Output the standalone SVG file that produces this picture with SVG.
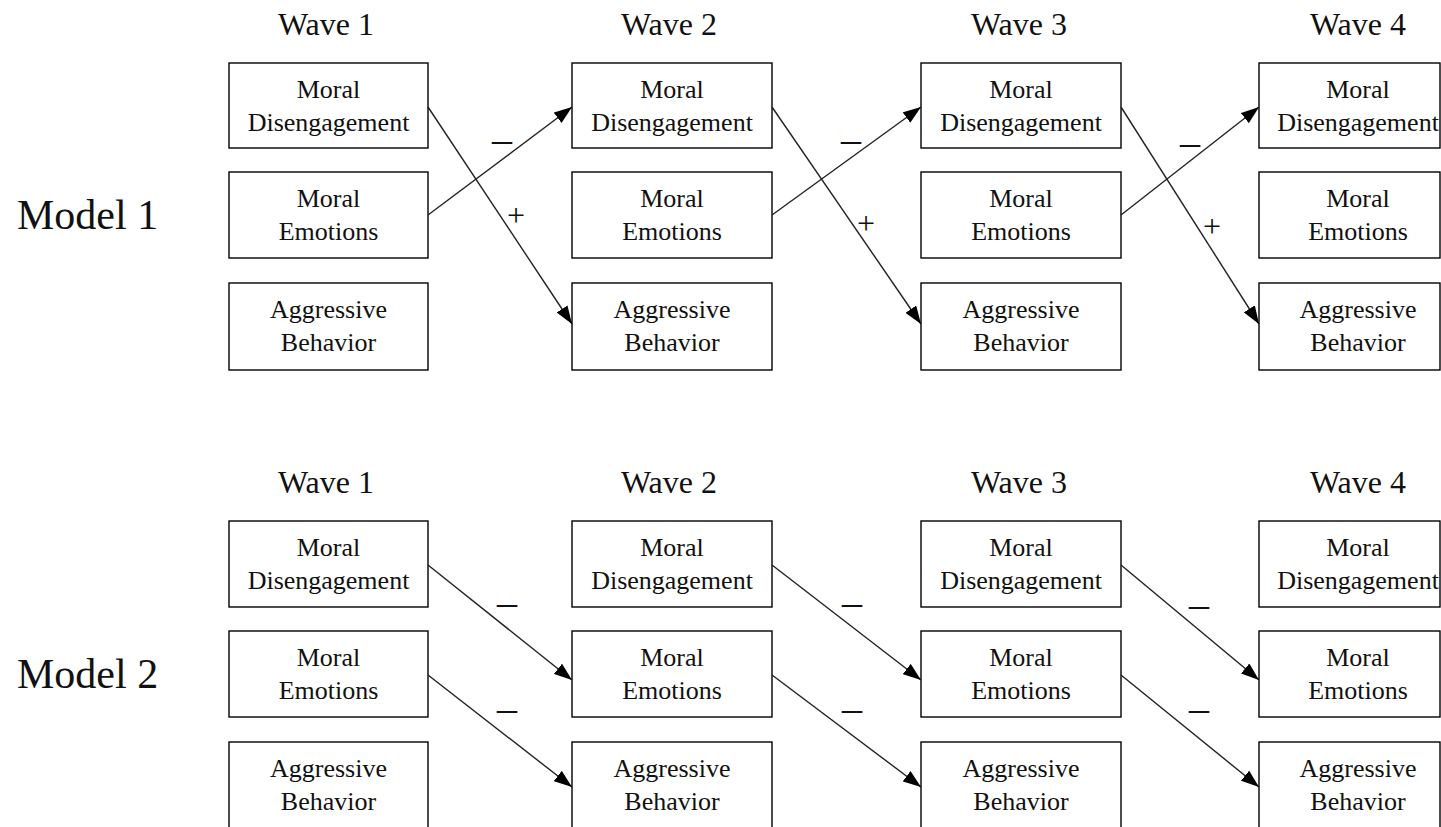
<svg xmlns="http://www.w3.org/2000/svg" width="1441" height="827" viewBox="0 0 1441 827">
<style>
.box{fill:#fff;stroke:#000;stroke-width:1.4}
.t{font-family:"Liberation Serif","Times New Roman",serif;font-size:26px;fill:#111;text-anchor:middle}
.w{font-family:"Liberation Serif","Times New Roman",serif;font-size:32px;fill:#111;text-anchor:middle}
.m{font-family:"Liberation Serif","Times New Roman",serif;font-size:42px;fill:#111}
.c{stroke:#222;stroke-width:1.4;fill:none;marker-end:url(#ah)}
.lab{font-family:"Liberation Serif","Times New Roman",serif;fill:#111;text-anchor:middle}
</style>
<defs>
<marker id="ah" viewBox="0 0 18 13" refX="18" refY="6.5" markerWidth="18" markerHeight="13" markerUnits="userSpaceOnUse" orient="auto">
<path d="M0,0 L18,6.5 L0,13 z" fill="#000"/>
</marker>
</defs>
<rect width="1441" height="827" fill="#fff"/>

<text class="m" x="17" y="229">Model 1</text>
<text class="m" x="17" y="688">Model 2</text>

<g id="titles1">
<text class="w" x="326" y="35">Wave 1</text>
<text class="w" x="669" y="35">Wave 2</text>
<text class="w" x="1019" y="35">Wave 3</text>
<text class="w" x="1358" y="35">Wave 4</text>
</g>
<g id="titles2">
<text class="w" x="326" y="493">Wave 1</text>
<text class="w" x="669" y="493">Wave 2</text>
<text class="w" x="1019" y="493">Wave 3</text>
<text class="w" x="1358" y="493">Wave 4</text>
</g>

<!-- Model 1 -->
<g id="m1w1md"><rect class="box" x="229" y="63" width="199" height="85"/><text class="t" x="328.5" y="98">Moral</text><text class="t" x="328.5" y="131">Disengagement</text></g>
<g id="m1w1me"><rect class="box" x="229" y="172" width="199" height="86"/><text class="t" x="328.5" y="207">Moral</text><text class="t" x="328.5" y="240">Emotions</text></g>
<g id="m1w1ab"><rect class="box" x="229" y="283" width="199" height="87"/><text class="t" x="328.5" y="318">Aggressive</text><text class="t" x="328.5" y="351">Behavior</text></g>

<g id="m1w2md"><rect class="box" x="572" y="63" width="200" height="85"/><text class="t" x="672" y="98">Moral</text><text class="t" x="672" y="131">Disengagement</text></g>
<g id="m1w2me"><rect class="box" x="572" y="172" width="200" height="86"/><text class="t" x="672" y="207">Moral</text><text class="t" x="672" y="240">Emotions</text></g>
<g id="m1w2ab"><rect class="box" x="572" y="283" width="200" height="87"/><text class="t" x="672" y="318">Aggressive</text><text class="t" x="672" y="351">Behavior</text></g>

<g id="m1w3md"><rect class="box" x="921" y="63" width="200" height="85"/><text class="t" x="1021" y="98">Moral</text><text class="t" x="1021" y="131">Disengagement</text></g>
<g id="m1w3me"><rect class="box" x="921" y="172" width="200" height="86"/><text class="t" x="1021" y="207">Moral</text><text class="t" x="1021" y="240">Emotions</text></g>
<g id="m1w3ab"><rect class="box" x="921" y="283" width="200" height="87"/><text class="t" x="1021" y="318">Aggressive</text><text class="t" x="1021" y="351">Behavior</text></g>

<g id="m1w4md"><rect class="box" x="1259" y="63" width="181" height="85"/><text class="t" x="1358" y="98">Moral</text><text class="t" x="1358" y="131">Disengagement</text></g>
<g id="m1w4me"><rect class="box" x="1259" y="172" width="181" height="86"/><text class="t" x="1358" y="207">Moral</text><text class="t" x="1358" y="240">Emotions</text></g>
<g id="m1w4ab"><rect class="box" x="1259" y="283" width="181" height="87"/><text class="t" x="1358" y="318">Aggressive</text><text class="t" x="1358" y="351">Behavior</text></g>

<!-- Model 2 -->
<g id="m2w1md"><rect class="box" x="229" y="521" width="199" height="86"/><text class="t" x="328.5" y="556">Moral</text><text class="t" x="328.5" y="589">Disengagement</text></g>
<g id="m2w1me"><rect class="box" x="229" y="631" width="199" height="86"/><text class="t" x="328.5" y="666">Moral</text><text class="t" x="328.5" y="699">Emotions</text></g>
<g id="m2w1ab"><rect class="box" x="229" y="742" width="199" height="90"/><text class="t" x="328.5" y="777">Aggressive</text><text class="t" x="328.5" y="810">Behavior</text></g>

<g id="m2w2md"><rect class="box" x="572" y="521" width="200" height="86"/><text class="t" x="672" y="556">Moral</text><text class="t" x="672" y="589">Disengagement</text></g>
<g id="m2w2me"><rect class="box" x="572" y="631" width="200" height="86"/><text class="t" x="672" y="666">Moral</text><text class="t" x="672" y="699">Emotions</text></g>
<g id="m2w2ab"><rect class="box" x="572" y="742" width="200" height="90"/><text class="t" x="672" y="777">Aggressive</text><text class="t" x="672" y="810">Behavior</text></g>

<g id="m2w3md"><rect class="box" x="921" y="521" width="200" height="86"/><text class="t" x="1021" y="556">Moral</text><text class="t" x="1021" y="589">Disengagement</text></g>
<g id="m2w3me"><rect class="box" x="921" y="631" width="200" height="86"/><text class="t" x="1021" y="666">Moral</text><text class="t" x="1021" y="699">Emotions</text></g>
<g id="m2w3ab"><rect class="box" x="921" y="742" width="200" height="90"/><text class="t" x="1021" y="777">Aggressive</text><text class="t" x="1021" y="810">Behavior</text></g>

<g id="m2w4md"><rect class="box" x="1259" y="521" width="181" height="86"/><text class="t" x="1358" y="556">Moral</text><text class="t" x="1358" y="589">Disengagement</text></g>
<g id="m2w4me"><rect class="box" x="1259" y="631" width="181" height="86"/><text class="t" x="1358" y="666">Moral</text><text class="t" x="1358" y="699">Emotions</text></g>
<g id="m2w4ab"><rect class="box" x="1259" y="742" width="181" height="90"/><text class="t" x="1358" y="777">Aggressive</text><text class="t" x="1358" y="810">Behavior</text></g>

<g id="connectors">
<line class="c" x1="428" y1="107" x2="572" y2="324"/>
<line class="c" x1="428" y1="215" x2="572" y2="107"/>
<line class="c" x1="772" y1="107" x2="921" y2="324"/>
<line class="c" x1="772" y1="215" x2="921" y2="107"/>
<line class="c" x1="1121" y1="107" x2="1259" y2="324"/>
<line class="c" x1="1121" y1="215" x2="1259" y2="107"/>

<line class="c" x1="428" y1="565" x2="572" y2="680"/>
<line class="c" x1="428" y1="675" x2="572" y2="787"/>
<line class="c" x1="772" y1="565" x2="921" y2="680"/>
<line class="c" x1="772" y1="675" x2="921" y2="787"/>
<line class="c" x1="1121" y1="565" x2="1259" y2="680"/>
<line class="c" x1="1121" y1="675" x2="1259" y2="787"/>
</g>

<g id="labels">
<text class="lab" font-size="40" x="502" y="152">–</text>
<text class="lab" font-size="32" x="516" y="226">+</text>
<text class="lab" font-size="40" x="851" y="152">–</text>
<text class="lab" font-size="32" x="866" y="234">+</text>
<text class="lab" font-size="40" x="1190" y="155">–</text>
<text class="lab" font-size="32" x="1212" y="237">+</text>

<text class="lab" font-size="40" x="507" y="602">_</text>
<text class="lab" font-size="40" x="507" y="708">_</text>
<text class="lab" font-size="40" x="852" y="602">_</text>
<text class="lab" font-size="40" x="852" y="708">_</text>
<text class="lab" font-size="40" x="1199" y="604">_</text>
<text class="lab" font-size="40" x="1199" y="708">_</text>
</g>
</svg>
